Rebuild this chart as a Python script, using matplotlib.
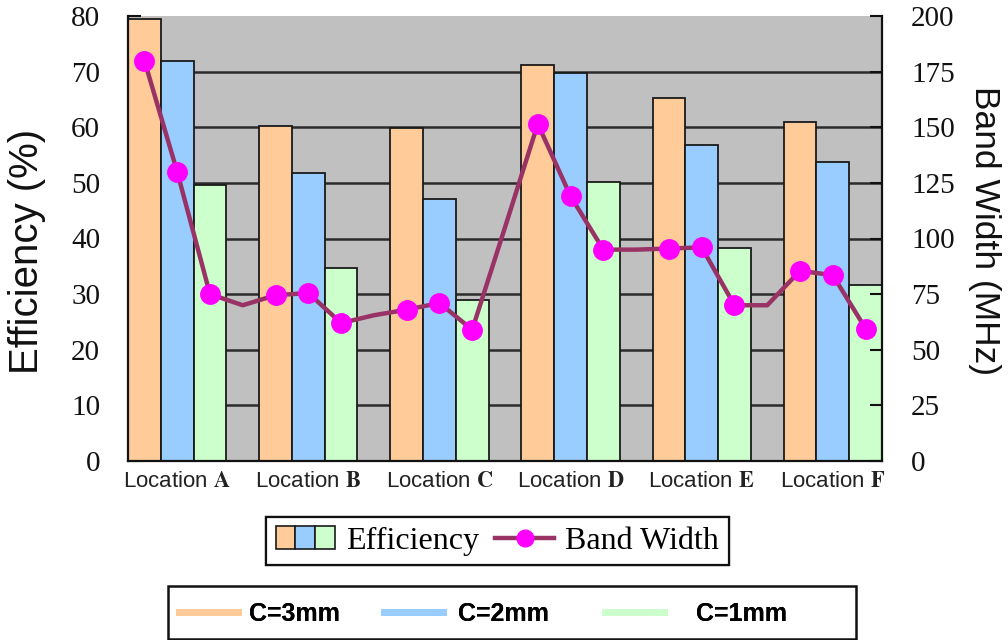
import matplotlib
matplotlib.use('Agg')
import matplotlib.pyplot as plt
from matplotlib.lines import Line2D
from matplotlib.patches import Patch, Rectangle
from matplotlib.legend_handler import HandlerTuple

# ---------------- data ----------------
locations = ['A', 'B', 'C', 'D', 'E', 'F']
eff_3mm = [79.5, 60.3, 59.8, 71.2, 65.2, 60.9]
eff_2mm = [72.0, 51.7, 47.1, 69.8, 56.8, 53.7]
eff_1mm = [49.6, 34.7, 29.0, 50.1, 38.3, 31.7]
bw_3mm = [180.0, 74.5, 68.0, 151.5, 95.5, 85.5]
bw_2mm = [130.0, 75.5, 71.0, 119.0, 96.0, 83.5]
bw_1mm = [75.0, 62.0, 59.0, 95.0, 70.0, 59.5]
bw_between = [70.0, 65.5, 105.0, 95.0, 70.0]   # unmarked line points in the gaps
eff_ticks = [0, 10, 20, 30, 40, 50, 60, 70, 80]
bw_ticks = [0, 25, 50, 75, 100, 125, 150, 175, 200]
series_labels = ['C=3mm', 'C=2mm', 'C=1mm']

# ---------------- style ----------------
c_orange = '#FFCC99'
c_blue = '#99CCFF'
c_green = '#CCFFCC'
c_bg = '#C0C0C0'
c_line = '#993366'
c_mark = '#FF00FF'
edge = '#1a1a1a'

plt.rcParams['font.family'] = ['Liberation Sans', 'DejaVu Sans']
plt.rcParams['mathtext.fontset'] = 'stix'

W, H = 1008, 640
fig = plt.figure(figsize=(W / 100, H / 100), dpi=100)
L, R, T, B = 128, 882, 16, 461
ax1 = fig.add_axes([L / W, 1 - B / H, (R - L) / W, (B - T) / H])
ax1.set_facecolor(c_bg)

n = len(locations)
slot = 4
x3 = [slot * g + 0 for g in range(n)]
x2 = [slot * g + 1 for g in range(n)]
x1 = [slot * g + 2 for g in range(n)]

for yv in eff_ticks[1:-1]:
    ax1.axhline(yv, color='#2b2b2b', lw=1.8, zorder=0.5)

bkw = dict(width=1.0, edgecolor=edge, linewidth=1.3, zorder=2)
ax1.bar(x3, eff_3mm, color=c_orange, **bkw)
ax1.bar(x2, eff_2mm, color=c_blue, **bkw)
ax1.bar(x1, eff_1mm, color=c_green, **bkw)

ax1.set_xlim(-0.5, slot * n - 1 - 0.5)
ax1.set_ylim(eff_ticks[0], eff_ticks[-1])
ax1.set_yticks(eff_ticks)
ax1.set_yticklabels([str(t) for t in eff_ticks], family='Liberation Serif', fontsize=21)
ax1.tick_params(axis='y', direction='in', length=9, width=1.5, pad=20, colors='#111111')
ax1.set_xticks(x2)
ax1.set_xticklabels(['Location $\\mathbf{%s}$' % l for l in locations], fontsize=16, color='#222222')
ax1.tick_params(axis='x', length=0, pad=7)
ax1.spines['top'].set_visible(False)
ax1.spines['right'].set_visible(False)
for s in ['left', 'bottom']:
    ax1.spines[s].set_linewidth(1.6)
    ax1.spines[s].set_color('#111111')

ax2 = ax1.twinx()
ax2.set_ylim(bw_ticks[0], bw_ticks[-1])
ax2.set_yticks(bw_ticks)
ax2.set_yticklabels([str(t) for t in bw_ticks], family='Liberation Serif', fontsize=21)
ax2.tick_params(axis='y', direction='in', length=9, width=1.5, pad=21, colors='#111111')
ax2.spines['top'].set_visible(False)
ax2.spines['left'].set_visible(False)
ax2.spines['bottom'].set_visible(False)
ax2.spines['right'].set_linewidth(1.6)
ax2.spines['right'].set_color('#111111')

lx, ly, marks = [], [], []
for g in range(n):
    for xv, yv in ((x3[g], bw_3mm[g]), (x2[g], bw_2mm[g]), (x1[g], bw_1mm[g])):
        marks.append(len(lx))
        lx.append(xv)
        ly.append(yv)
    if g < n - 1:
        lx.append(slot * g + 3)
        ly.append(bw_between[g])
ax2.plot(lx, ly, color=c_line, lw=3.2, marker='o', markersize=14, markevery=marks,
         markerfacecolor=c_mark, markeredgecolor=c_mark, zorder=5)

# axis titles
fig.text(27 / W, 1 - 251 / H, 'Efficiency (%)', rotation=90, ha='center', va='center',
         fontsize=29, color='#111111')
fig.text(985 / W, 1 - 231 / H, 'Band Width (MHz)', rotation=270, ha='center', va='center',
         fontsize=25.5, color='#111111')

# legend 1
ph = [Patch(facecolor=c, edgecolor=edge, linewidth=1.2) for c in (c_orange, c_blue, c_green)]
lh = Line2D([], [], color=c_line, lw=3.2, marker='o', markersize=12,
            markerfacecolor=c_mark, markeredgecolor=c_mark)
leg1 = fig.legend([tuple(ph), lh], ['Efficiency', 'Band Width'],
                  handler_map={tuple: HandlerTuple(ndivide=None, pad=0)},
                  loc='center', bbox_to_anchor=(497.5 / W, 1 - 541 / H), ncol=2,
                  frameon=True, fancybox=False, edgecolor='#111111', framealpha=1,
                  prop={'family': 'Liberation Serif', 'size': 23},
                  handlelength=1.85, handleheight=0.72, handletextpad=0.35,
                  columnspacing=0.5, borderpad=0.3, borderaxespad=0)
leg1.get_frame().set_linewidth(1.6)
fig.add_artist(leg1)

# legend 2 (box + three entries)
fig.patches.append(Rectangle((168 / W, 1 - 639 / H), (856 - 168) / W, (639 - 586) / H,
                             transform=fig.transFigure, facecolor='white',
                             edgecolor='#111111', linewidth=1.8))
entry_x = [179, 384, 605]
entry_pad = [0.45, 0.6, 1.3]
for c, lab, ex, tp in zip((c_orange, c_blue, c_green), series_labels, entry_x, entry_pad):
    lg = fig.legend([Line2D([], [], color=c, lw=5)], [lab], loc='center left',
                    bbox_to_anchor=(ex / W, 1 - 614 / H), frameon=False,
                    prop={'size': 18, 'weight': 'bold'}, handlelength=2.35,
                    handletextpad=tp, borderpad=0, borderaxespad=0)
    fig.add_artist(lg)

fig.savefig('out.png', dpi=100)
